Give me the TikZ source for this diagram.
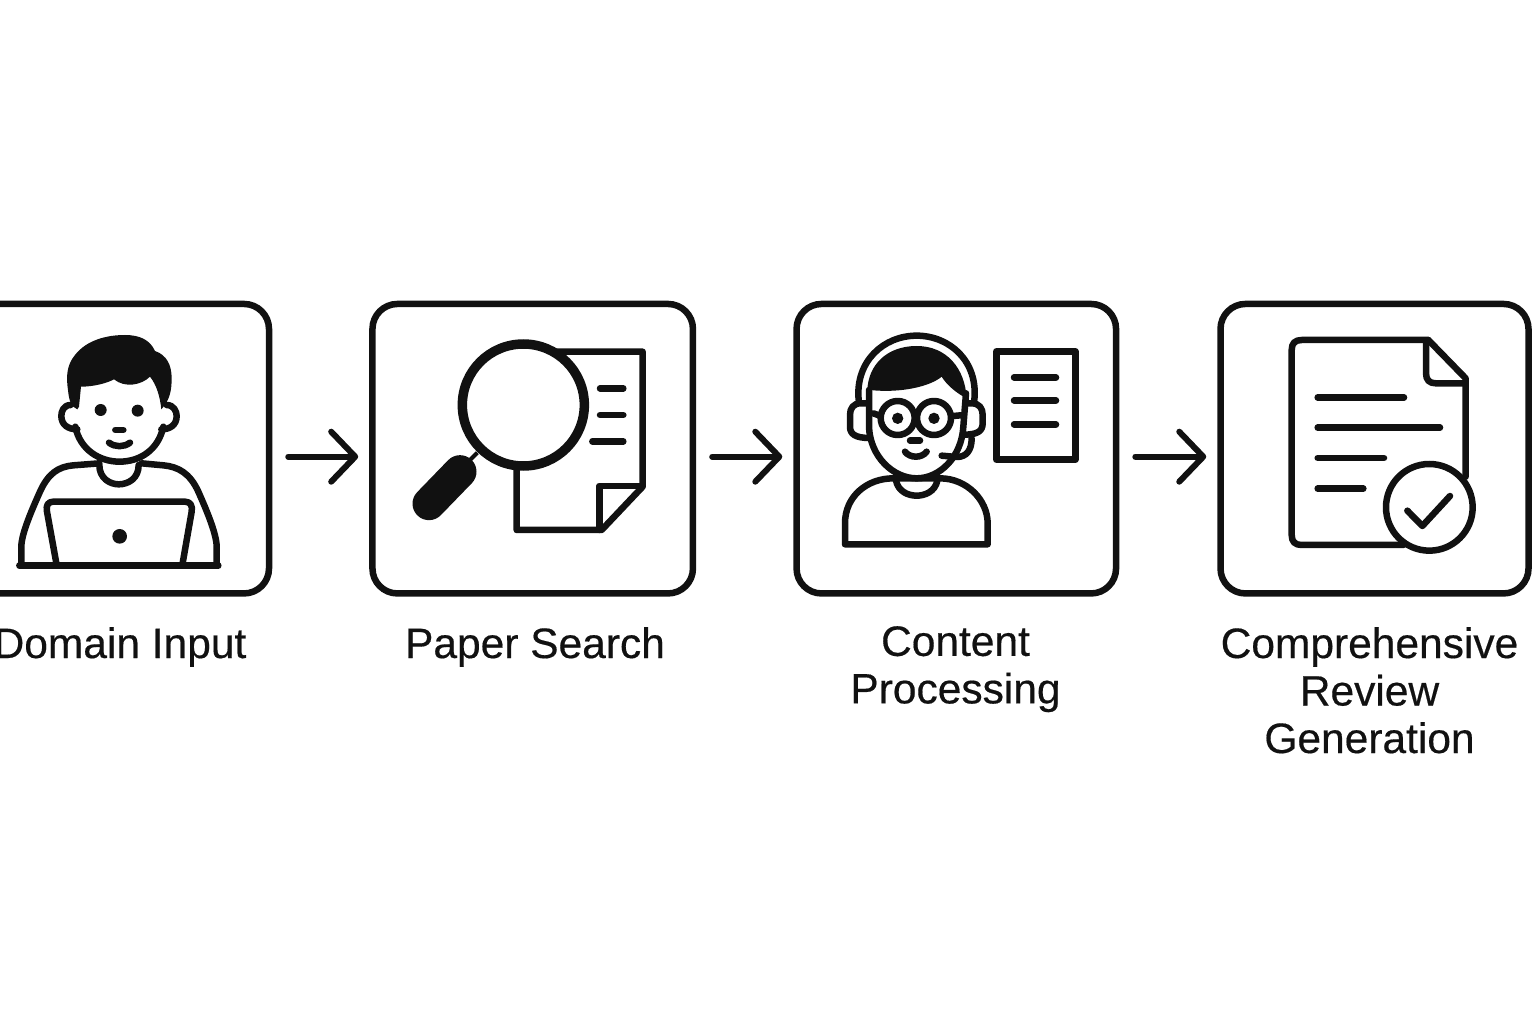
\documentclass[tikz,border=0pt]{standalone}
\usepackage{fontspec}
\setmainfont{Liberation Sans}[FakeBold=0.4]
\usetikzlibrary{arrows.meta}
\definecolor{ink}{HTML}{111111}
\tikzset{
  panel/.style={draw=ink,line width=6.5pt,rounded corners=25pt,minimum height=289.5pt,inner sep=0pt,fill=none},
  caption/.style={text=ink,align=center,anchor=north,inner sep=0pt,font=\fontsize{42.5}{47.5}\selectfont},
  flow/.style={draw=ink,line width=6pt,line cap=round,line join=round,shorten <=16pt,shorten >=11pt,-{Straight Barb[length=24pt,width=50pt,line cap=round,line join=round]}},
  ic/.style={draw=ink,line width=6.5pt,line cap=round,line join=round},
  bar/.style={draw=ink,line width=6.5pt,line cap=round},
}
\begin{document}
\begin{tikzpicture}[x=1pt,y=-1pt]
\useasboundingbox (0,0) rectangle (1536,1024);
\clip (0,0) rectangle (1536,1024);
\fill[white] (0,0) rectangle (1536,1024);

\node[panel,minimum width=320pt] (b1) at (109,448.7) {};
\node[panel,minimum width=320.5pt] (b2) at (532.7,448.7) {};
\node[panel,minimum width=319.5pt] (b3) at (956.3,448.7) {};
\node[panel,minimum width=308pt] (b4) at (1374.5,448.7) {};

\draw[flow] ([yshift=-8pt]b1.east) -- ([yshift=-8pt]b2.west);
\draw[flow] ([yshift=-8pt]b2.east) -- ([yshift=-8pt]b3.west);
\draw[flow] ([yshift=-8pt]b3.east) -- ([yshift=-8pt]b4.west);

\node[caption] (t1) at (120,627) {Domain Input};
\node[caption] (t2) at (535,627) {Paper Search};
\node[caption] (t3) at (955.5,626) {Content\\Processing};
\node[caption] (t4) at (1369.5,627) {Comprehensive\\Review\\Generation};

% Person with laptop
\begin{scope}[shift={(0,290)},scale=0.33333]
\fill[ink] (232,358) .. controls (212,350) and (207,330) .. (204,300) .. controls (198,260) and (200,225) .. (225,195) .. controls (260,150) and (320,135) .. (375,135) .. controls (420,135) and (450,150) .. (465,183) .. controls (500,195) and (515,225) .. (515,265) .. controls (515,300) and (510,330) .. (484,358) .. controls (480,320) and (470,285) .. (450,260) .. controls (425,285) and (375,295) .. (342,268) .. controls (320,280) and (280,290) .. (243,290) -- (237,350) -- cycle;
\draw[ic] (226,410) .. controls (240,480) and (300,515) .. (358,515) .. controls (420,515) and (475,480) .. (490,410);
\draw[ic] (212,345) .. controls (190,345) and (184,365) .. (184,378) .. controls (184,405) and (205,418) .. (232,418);
\draw[ic] (500,345) .. controls (522,345) and (530,365) .. (530,378) .. controls (530,405) and (510,418) .. (484,418);
\fill[ink] (302,360) circle[radius=18] (413,362) circle[radius=18];
\draw[bar] (346,420) -- (370,420);
\draw[bar] (327,458) .. controls (345,472) and (372,472) .. (390,458);
\draw[ic] (298,525) .. controls (298,565) and (330,583) .. (356,583) .. controls (385,583) and (416,565) .. (416,525);
\draw[ic] (64,825) -- (64,770) .. controls (64,730) and (100,650) .. (120,605) .. controls (145,550) and (175,530) .. (220,526) -- (298,520);
\draw[ic] (650,825) -- (650,770) .. controls (650,730) and (615,650) .. (595,605) .. controls (570,550) and (535,530) .. (490,526) -- (425,520);
\draw[ic] (170,825) -- (141,665) .. controls (137,645) and (145,635) .. (160,635) -- (555,635) .. controls (572,635) and (578,648) .. (575,665) -- (547,825);
\fill[ink] (359,739) circle[radius=22];
\draw[ic] (58,827) -- (655,827);
\end{scope}

% Magnifier and page
\begin{scope}[shift={(360,290)},scale=0.33333]
\draw[ic] (590,185) -- (848,185) -- (848,590) -- (725,720) -- (470,720) -- (470,540);
\draw[ic] (718,720) -- (718,588) -- (848,588);
\draw[bar] (720,295) -- (790,295);
\draw[bar] (720,375) -- (790,375);
\draw[bar] (697,454) -- (790,454);
\draw[draw=ink,line width=4pt] (352,488) -- (300,540);
\draw[ink,line width=33pt,line cap=round] (207,641) -- (300,545);
\draw[draw=ink,fill=white,line width=9.5pt] (490,345) circle[radius=183];
\end{scope}

% Person with headset and sheet
\begin{scope}[shift={(790,290)},scale=0.33333]
\fill[ink] (232,300) .. controls (235,225) and (290,168) .. (380,168) .. controls (470,168) and (525,235) .. (530,325) .. controls (500,310) and (470,285) .. (455,260) .. controls (420,290) and (330,310) .. (240,300) -- cycle;
\draw[ic] (206,330) .. controls (195,215) and (280,137) .. (380,137) .. controls (480,137) and (565,215) .. (553,330);
\draw[ic] (236,340) -- (212,340) .. controls (190,340) and (180,355) .. (180,375) -- (180,410) .. controls (180,432) and (195,444) .. (240,444);
\draw[ic] (526,340) -- (545,340) .. controls (568,340) and (578,355) .. (578,375) -- (578,400) .. controls (578,425) and (560,434) .. (520,434);
\draw[ic] (237,300) -- (237,410) .. controls (240,500) and (310,565) .. (380,565) .. controls (450,565) and (515,500) .. (520,410) -- (528,310);
\draw[ic] (323,384) circle[radius=51];
\draw[ic] (432,384) circle[radius=51];
\fill[ink] (323,385) circle[radius=17] (432,385) circle[radius=17];
\draw[ic] (250,370) -- (272,378);
\draw[ic] (490,378) -- (512,376);
\draw[bar] (360,452) -- (390,452);
\draw[bar] (345,485) .. controls (360,505) and (395,505) .. (410,485);
\draw[ic] (455,497) -- (500,501) .. controls (530,501) and (545,480) .. (545,445);
\draw[ic] (165,763) -- (165,700) .. controls (165,620) and (230,565) .. (310,565) -- (450,565) .. controls (530,565) and (593,630) .. (593,700) -- (593,763) -- cycle;
\draw[ic] (318,572) .. controls (325,605) and (355,617) .. (380,617) .. controls (405,617) and (435,605) .. (442,572);
\draw[ic] (619,184) rectangle (856,509);
\draw[bar] (672,262) -- (798,262);
\draw[bar] (672,331) -- (798,331);
\draw[bar] (672,403) -- (798,403);
\end{scope}

% Document with check
\begin{scope}[shift={(1200,290)},scale=0.33333]
\draw[ic] (685,150) -- (797,265) -- (797,560);
\draw[ic] (685,150) -- (305,150) .. controls (285,150) and (275,160) .. (275,180) -- (275,735) .. controls (275,755) and (285,765) .. (305,765) -- (610,765);
\draw[ic] (678,160) -- (678,250) .. controls (678,270) and (688,280) .. (708,280) -- (797,280);
\draw[bar] (353,322) -- (612,322);
\draw[bar] (353,413) -- (720,413);
\draw[bar] (353,504) -- (552,504);
\draw[bar] (353,596) -- (490,596);
\draw[draw=ink,fill=white,line width=6.5pt] (688,652) circle[radius=130];
\draw[ic] (622,662) -- (667,708) -- (750,618);
\end{scope}
\end{tikzpicture}
\end{document}
